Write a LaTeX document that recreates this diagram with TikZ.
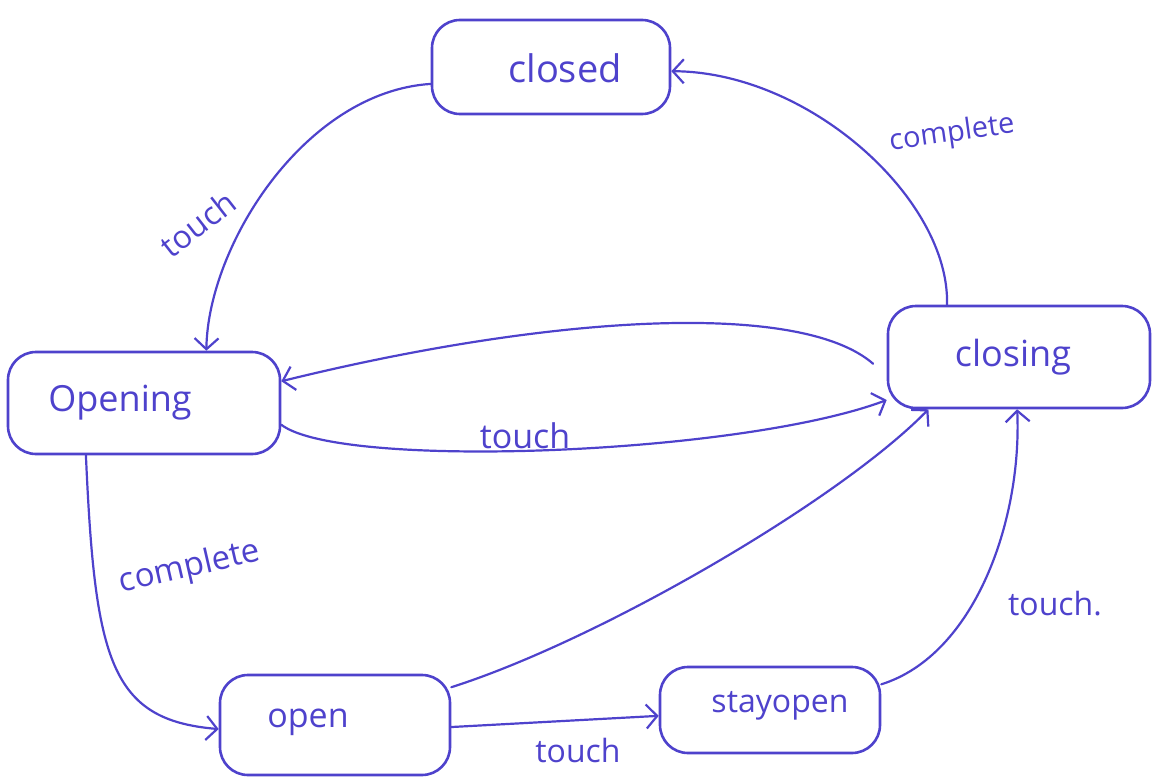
\documentclass[tikz,border=0pt]{standalone}
\usepackage{fontspec}
\setmainfont{Open Sans}
\usetikzlibrary{arrows.meta}
\definecolor{ink}{RGB}{78,66,204}
\begin{document}
\begin{tikzpicture}[x=1pt,y=-1pt,
  state/.style={draw=ink, line width=2.6pt, rounded corners=28pt, inner sep=0pt},
  statename/.style={text=ink, inner sep=0pt, font=\fontsize{38}{40}\selectfont},
  lbl/.style={text=ink, inner sep=0pt, font=\fontsize{32}{34}\selectfont},
  edge/.style={draw=ink, line width=2.2pt, line cap=round,
    -{Straight Barb[length=11pt,width=24pt,line width=2.2pt]}}
]
\useasboundingbox (0,0) rectangle (1152,779);

% states
\node[state, minimum width=238pt, minimum height=94pt]  (closed)   at (551,67)  {};
\node[state, minimum width=272pt, minimum height=102pt] (opening)  at (144,403) {};
\node[state, minimum width=262pt, minimum height=102pt] (closing)  at (1019,357) {};
\node[state, minimum width=230pt, minimum height=100pt] (open)     at (335,725) {};
\node[state, minimum width=220pt, minimum height=86pt]  (stayopen) at (770,710) {};

% state names
\node[statename] (closedname)   at (565,68)  {closed};
\node[statename, font=\fontsize{36}{38}\selectfont] (openingname) at (120,403) {Opening};
\node[statename, font=\fontsize{36}{38}\selectfont] (closingname) at (1013,357) {closing};
\node[statename, font=\fontsize{34}{36}\selectfont] (openname)    at (308,722) {open};
\node[statename, font=\fontsize{32}{34}\selectfont] (stayopenname) at (780,706) {stayopen};

% transitions
\draw[edge] (closed.188) .. controls (305,92) and (208,245) .. (opening.40);
\draw[edge] (closing.144) .. controls (950,200) and (810,72) .. (closed.-2);
\draw[edge, shorten <=18pt] (closing.188) .. controls (800,300) and (550,315) .. (opening.9);
\draw[edge] (opening.-9) .. controls (340,470) and (740,455) .. (closing.198);
\draw[edge] (opening.-138) .. controls (95,660) and (110,720) .. (open.182);
\draw[edge] (open.18) .. controls (600,640) and (840,500) .. (closing.-150);
\draw[edge] (open.-1) -- (stayopen.183);
\draw[edge] (stayopen.13) .. controls (975,655) and (1022,520) .. (closing.-92);

% transition labels
\node[lbl, rotate=38] (lbltouchA) at (198,224) {touch};
\node[lbl, rotate=8, font=\fontsize{29}{31}\selectfont] (lblcompleteA) at (952,134) {complete};
\node[lbl, font=\fontsize{34}{36}\selectfont] (lbltouchB) at (525,436) {touch};
\node[lbl, rotate=13, font=\fontsize{33}{35}\selectfont] (lblcompleteB) at (190,568) {complete};
\node[lbl] (lbltouchC) at (578,750) {touch};
\node[lbl] (lbltouchD) at (1055,604) {touch.};
\end{tikzpicture}
\end{document}
